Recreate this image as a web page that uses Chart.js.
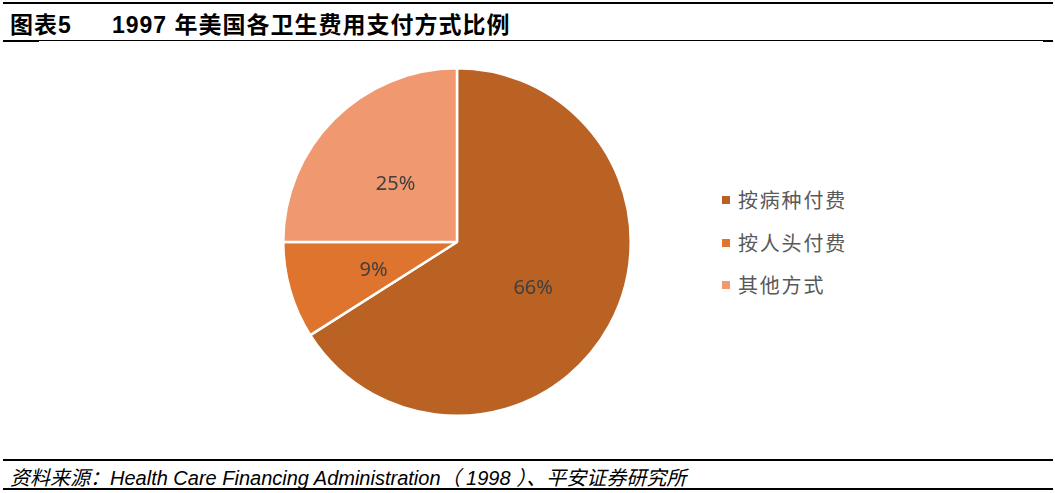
<!DOCTYPE html>
<html>
<head>
<meta charset="utf-8">
<script src="https://cdn.jsdelivr.net/npm/chart.js@4.4.0/dist/chart.umd.min.js"></script>
<style>
    body { margin: 0; width: 1055px; height: 493px; background: #fff; position: relative; overflow: hidden; font-family: "Liberation Sans", "Noto Sans CJK SC", sans-serif; }
    .rule { position: absolute; background: #000; }
    #title { position: absolute; left: 10px; top: 6px; font-size: 23px; letter-spacing: 1px; font-weight: bold; color: #000; white-space: nowrap; }
    #title span { display: inline-block; }
    #source { position: absolute; left: 10px; top: 462px; font-size: 20px; font-style: italic; color: #000; white-space: nowrap; }
    #chartBox { position: absolute; left: 282px; top: 67px; width: 350px; height: 350px; }
    #legend { position: absolute; left: 722px; top: 186px; font-family: "Noto Sans CJK SC", sans-serif; color: #595959; font-size: 20px; letter-spacing: 1.8px; }
    .item { height: 42.5px; display: flex; align-items: flex-start; }
    .item i { display: inline-block; width: 8px; height: 8px; margin-top: 10px; margin-right: 8px; }
    .item span { line-height: 28px; }
</style>
</head>
<body>
<div class="rule" style="left:3px; top:2px; width:1050px; height:2px;"></div>
<div class="rule" style="left:3px; top:40px; width:1050px; height:1px;"></div>
<div class="rule" style="left:3px; top:40px; width:36px; height:2px;"></div>
<div class="rule" style="left:1043px; top:40px; width:10px; height:2px;"></div>
<div id="title"><span style="width:102px;">图表5</span><span>1997 年美国各卫生费用支付方式比例</span></div>

<div id="chartBox"><canvas id="pieChart"></canvas></div>
<div id="legend"></div>

<div class="rule" style="left:3px; top:459px; width:1050px; height:2px;"></div>
<div id="source">资料来源：Health Care Financing Administration（ 1998 ）、平安证券研究所</div>
<div class="rule" style="left:3px; top:488px; width:1050px; height:2px;"></div>

<script>
// Chart data
const categories = ['按病种付费', '按人头付费', '其他方式'];
const shares = [66, 9, 25];
const sliceColors = ['#BA6224', '#DE742D', '#F0986F'];

// Legend (HTML, right side)
const legendEl = document.getElementById('legend');
categories.forEach((name, i) => {
    const row = document.createElement('div');
    row.className = 'item';
    row.innerHTML = '<i style="background:' + sliceColors[i] + '"></i><span>' + name + '</span>';
    legendEl.appendChild(row);
});

// Percent labels inside slices
const sliceLabels = {
    id: 'sliceLabels',
    afterDatasetsDraw(chart) {
        const ctx = chart.ctx;
        const meta = chart.getDatasetMeta(0);
        ctx.save();
        ctx.font = '20px "Noto Sans", "Open Sans", sans-serif';
        ctx.fillStyle = '#404040';
        ctx.textAlign = 'center';
        ctx.textBaseline = 'middle';
        meta.data.forEach((arc, i) => {
            const pos = arc.tooltipPosition();
            ctx.fillText(shares[i] + '%', pos.x, pos.y + 4);
        });
        ctx.restore();
    }
};

document.addEventListener('DOMContentLoaded', function () {
    const ctx = document.getElementById('pieChart').getContext('2d');
    new Chart(ctx, {
        type: 'pie',
        data: {
            labels: categories,
            datasets: [{
                data: shares,
                backgroundColor: sliceColors,
                borderColor: '#ffffff',
                borderWidth: 2.5,
                hoverOffset: 0
            }]
        },
        options: {
            responsive: true,
            maintainAspectRatio: false,
            animation: false,
            layout: { padding: 0 },
            plugins: {
                legend: { display: false },
                tooltip: { enabled: false }
            }
        },
        plugins: [sliceLabels]
    });
});
</script>
</body>
</html>
